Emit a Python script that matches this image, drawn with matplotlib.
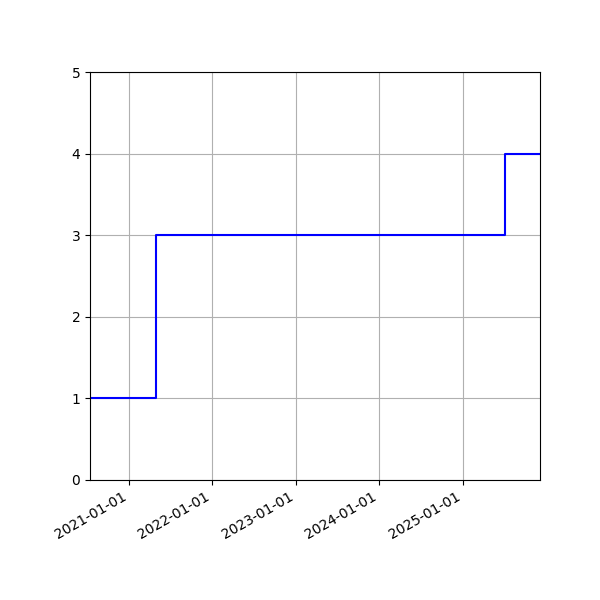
import numpy as np
import pandas as pd
import matplotlib
matplotlib.use("Agg")
import matplotlib.pyplot as plt
import matplotlib.dates as mdates

# valores del escalón (post)
dates = pd.to_datetime(["2020-07-15", "2021-04-28", "2025-07-05", "2025-12-05"])
values = [1, 3, 4, 4]
tick_dates = pd.to_datetime(["2021-01-01", "2022-01-01", "2023-01-01", "2024-01-01", "2025-01-01"])

fig, ax = plt.subplots(figsize=(6, 6), dpi=100)
ax.plot(dates, values, drawstyle="steps-post", color="blue")
ax.set_xlim(dates[0], dates[-1])
ax.set_ylim(0, 5)
ax.set_xticks(tick_dates)
ax.xaxis.set_major_formatter(mdates.DateFormatter("%Y-%m-%d"))
ax.grid(True)
fig.autofmt_xdate()
fig.subplots_adjust(left=0.15, right=0.9, top=0.88, bottom=0.2)
fig.savefig("out.png")
